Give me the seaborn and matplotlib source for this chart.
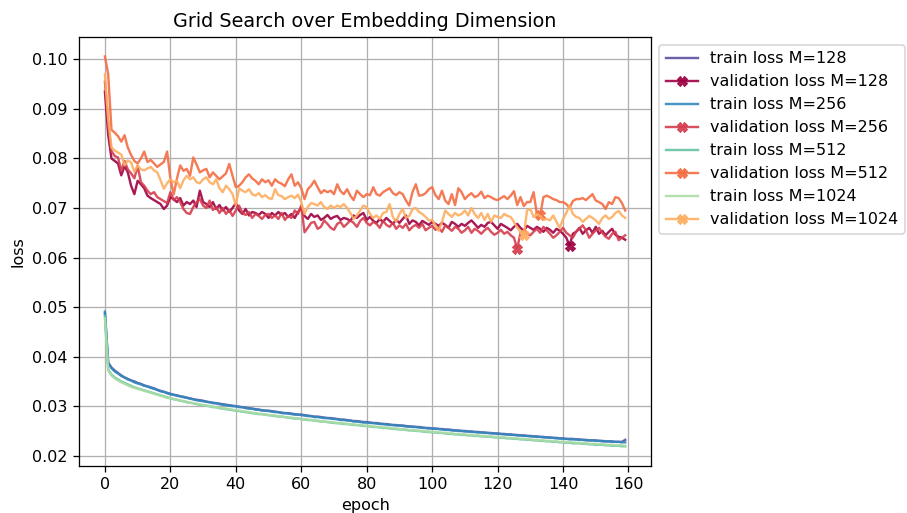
import numpy as np
import pandas as pd
import matplotlib
matplotlib.use("Agg")
import matplotlib.pyplot as plt
import seaborn as sns

epochs = list(range(160))

train_128 = [
    0.0488, 0.0388, 0.0378, 0.0372, 0.0367, 0.0362, 0.0358, 0.0355, 0.0352, 0.0350,
    0.0347, 0.0345, 0.0342, 0.0340, 0.0338, 0.0336, 0.0333, 0.0331, 0.0329, 0.0327,
    0.0325, 0.0323, 0.0322, 0.0320, 0.0319, 0.0317, 0.0316, 0.0314, 0.0313, 0.0312,
    0.0311, 0.0309, 0.0308, 0.0307, 0.0306, 0.0305, 0.0304, 0.0303, 0.0302, 0.0301,
    0.0300, 0.0299, 0.0298, 0.0297, 0.0296, 0.0295, 0.0294, 0.0293, 0.0292, 0.0291,
    0.0291, 0.0290, 0.0289, 0.0288, 0.0287, 0.0286, 0.0286, 0.0285, 0.0284, 0.0283,
    0.0283, 0.0282, 0.0281, 0.0280, 0.0279, 0.0279, 0.0278, 0.0277, 0.0276, 0.0276,
    0.0275, 0.0274, 0.0273, 0.0273, 0.0272, 0.0271, 0.0270, 0.0270, 0.0269, 0.0268,
    0.0268, 0.0267, 0.0266, 0.0266, 0.0265, 0.0264, 0.0264, 0.0263, 0.0262, 0.0262,
    0.0261, 0.0261, 0.0260, 0.0259, 0.0259, 0.0258, 0.0258, 0.0257, 0.0256, 0.0256,
    0.0255, 0.0255, 0.0254, 0.0254, 0.0253, 0.0253, 0.0252, 0.0251, 0.0251, 0.0250,
    0.0250, 0.0249, 0.0249, 0.0248, 0.0248, 0.0247, 0.0247, 0.0246, 0.0246, 0.0245,
    0.0245, 0.0244, 0.0244, 0.0243, 0.0243, 0.0242, 0.0242, 0.0241, 0.0241, 0.0240,
    0.0240, 0.0239, 0.0239, 0.0238, 0.0238, 0.0237, 0.0237, 0.0236, 0.0236, 0.0235,
    0.0235, 0.0234, 0.0234, 0.0234, 0.0233, 0.0233, 0.0232, 0.0232, 0.0231, 0.0231,
    0.0231, 0.0230, 0.0230, 0.0229, 0.0229, 0.0229, 0.0228, 0.0228, 0.0228, 0.0232,
]

val_128 = [
    0.0935, 0.0848, 0.0800, 0.0795, 0.0790, 0.0766, 0.0785, 0.0772, 0.0745, 0.0728,
    0.0755, 0.0748, 0.0740, 0.0725, 0.0720, 0.0716, 0.0712, 0.0708, 0.0698, 0.0705,
    0.0722, 0.0718, 0.0712, 0.0720, 0.0705, 0.0712, 0.0708, 0.0715, 0.0702, 0.0735,
    0.0712, 0.0708, 0.0702, 0.0712, 0.0698, 0.0706, 0.0695, 0.0702, 0.0692, 0.0700,
    0.0710, 0.0695, 0.0688, 0.0698, 0.0685, 0.0692, 0.0690, 0.0686, 0.0692, 0.0688,
    0.0680, 0.0690, 0.0685, 0.0692, 0.0686, 0.0690, 0.0682, 0.0688, 0.0680, 0.0692,
    0.0700, 0.0684, 0.0678, 0.0688, 0.0682, 0.0685, 0.0676, 0.0680, 0.0686, 0.0678,
    0.0682, 0.0684, 0.0676, 0.0680, 0.0678, 0.0674, 0.0685, 0.0680, 0.0686, 0.0690,
    0.0676, 0.0682, 0.0674, 0.0670, 0.0678, 0.0672, 0.0680, 0.0674, 0.0668, 0.0676,
    0.0670, 0.0678, 0.0685, 0.0668, 0.0675, 0.0672, 0.0665, 0.0674, 0.0670, 0.0666,
    0.0672, 0.0668, 0.0664, 0.0670, 0.0666, 0.0660, 0.0672, 0.0668, 0.0662, 0.0668,
    0.0664, 0.0670, 0.0675, 0.0668, 0.0660, 0.0666, 0.0662, 0.0670, 0.0672, 0.0665,
    0.0658, 0.0668, 0.0664, 0.0660, 0.0655, 0.0662, 0.0668, 0.0660, 0.0654, 0.0664,
    0.0660, 0.0656, 0.0662, 0.0658, 0.0652, 0.0660, 0.0656, 0.0650, 0.0658, 0.0654,
    0.0648, 0.0640, 0.0624, 0.0648, 0.0652, 0.0660, 0.0648, 0.0655, 0.0660, 0.0650,
    0.0662, 0.0648, 0.0654, 0.0645, 0.0652, 0.0658, 0.0646, 0.0642, 0.0640, 0.0636,
]

train_256 = [
    0.0491, 0.0386, 0.0377, 0.0370, 0.0366, 0.0361, 0.0358, 0.0354, 0.0352, 0.0348,
    0.0346, 0.0344, 0.0341, 0.0340, 0.0337, 0.0335, 0.0333, 0.0330, 0.0329, 0.0326,
    0.0324, 0.0323, 0.0321, 0.0320, 0.0318, 0.0317, 0.0315, 0.0314, 0.0312, 0.0311,
    0.0310, 0.0309, 0.0308, 0.0306, 0.0306, 0.0304, 0.0303, 0.0302, 0.0301, 0.0300,
    0.0300, 0.0298, 0.0298, 0.0296, 0.0295, 0.0295, 0.0293, 0.0293, 0.0291, 0.0291,
    0.0290, 0.0289, 0.0288, 0.0288, 0.0286, 0.0286, 0.0285, 0.0284, 0.0283, 0.0283,
    0.0282, 0.0281, 0.0280, 0.0280, 0.0278, 0.0278, 0.0277, 0.0276, 0.0276, 0.0275,
    0.0274, 0.0274, 0.0272, 0.0272, 0.0271, 0.0271, 0.0269, 0.0269, 0.0268, 0.0267,
    0.0267, 0.0266, 0.0266, 0.0265, 0.0264, 0.0264, 0.0263, 0.0262, 0.0262, 0.0261,
    0.0261, 0.0260, 0.0259, 0.0259, 0.0258, 0.0258, 0.0257, 0.0256, 0.0256, 0.0255,
    0.0255, 0.0254, 0.0254, 0.0253, 0.0252, 0.0252, 0.0251, 0.0251, 0.0250, 0.0250,
    0.0249, 0.0249, 0.0248, 0.0248, 0.0247, 0.0247, 0.0246, 0.0246, 0.0245, 0.0245,
    0.0244, 0.0244, 0.0243, 0.0243, 0.0242, 0.0242, 0.0241, 0.0241, 0.0240, 0.0240,
    0.0239, 0.0239, 0.0238, 0.0238, 0.0237, 0.0237, 0.0236, 0.0236, 0.0235, 0.0235,
    0.0234, 0.0234, 0.0233, 0.0233, 0.0233, 0.0232, 0.0232, 0.0231, 0.0231, 0.0231,
    0.0230, 0.0230, 0.0229, 0.0229, 0.0229, 0.0228, 0.0228, 0.0228, 0.0227, 0.0227,
]

val_256 = [
    0.0955, 0.0870, 0.0815, 0.0805, 0.0802, 0.0775, 0.0795, 0.0778, 0.0770, 0.0760,
    0.0785, 0.0752, 0.0745, 0.0735, 0.0728, 0.0732, 0.0722, 0.0718, 0.0714, 0.0710,
    0.0732, 0.0716, 0.0722, 0.0712, 0.0698, 0.0690, 0.0688, 0.0702, 0.0712, 0.0718,
    0.0705, 0.0700, 0.0715, 0.0696, 0.0702, 0.0690, 0.0700, 0.0688, 0.0696, 0.0684,
    0.0695, 0.0705, 0.0690, 0.0686, 0.0692, 0.0680, 0.0688, 0.0684, 0.0678, 0.0686,
    0.0688, 0.0680, 0.0685, 0.0678, 0.0690, 0.0676, 0.0684, 0.0680, 0.0695, 0.0688,
    0.0705, 0.0651, 0.0660, 0.0670, 0.0672, 0.0658, 0.0662, 0.0675, 0.0668, 0.0660,
    0.0656, 0.0668, 0.0672, 0.0662, 0.0668, 0.0675, 0.0670, 0.0662, 0.0674, 0.0680,
    0.0670, 0.0665, 0.0672, 0.0668, 0.0660, 0.0674, 0.0666, 0.0662, 0.0670, 0.0658,
    0.0665, 0.0660, 0.0668, 0.0655, 0.0662, 0.0666, 0.0660, 0.0668, 0.0655, 0.0660,
    0.0664, 0.0656, 0.0660, 0.0652, 0.0665, 0.0660, 0.0654, 0.0662, 0.0658, 0.0650,
    0.0655, 0.0662, 0.0650, 0.0658, 0.0654, 0.0648, 0.0655, 0.0660, 0.0652, 0.0646,
    0.0650, 0.0656, 0.0648, 0.0652, 0.0645, 0.0640, 0.0618, 0.0650, 0.0655, 0.0648,
    0.0645, 0.0652, 0.0658, 0.0650, 0.0662, 0.0655, 0.0648, 0.0640, 0.0645, 0.0652,
    0.0660, 0.0650, 0.0645, 0.0640, 0.0652, 0.0658, 0.0665, 0.0655, 0.0640, 0.0648,
    0.0655, 0.0660, 0.0650, 0.0642, 0.0638, 0.0648, 0.0652, 0.0635, 0.0640, 0.0645,
]

train_512 = [
    0.0482, 0.0374, 0.0364, 0.0358, 0.0354, 0.0350, 0.0347, 0.0344, 0.0341, 0.0338,
    0.0336, 0.0334, 0.0332, 0.0330, 0.0328, 0.0326, 0.0324, 0.0322, 0.0320, 0.0318,
    0.0316, 0.0314, 0.0313, 0.0311, 0.0310, 0.0308, 0.0307, 0.0306, 0.0304, 0.0303,
    0.0302, 0.0301, 0.0300, 0.0298, 0.0298, 0.0296, 0.0295, 0.0294, 0.0293, 0.0292,
    0.0291, 0.0290, 0.0289, 0.0288, 0.0287, 0.0286, 0.0285, 0.0284, 0.0284, 0.0283,
    0.0282, 0.0281, 0.0280, 0.0279, 0.0279, 0.0278, 0.0277, 0.0276, 0.0275, 0.0275,
    0.0274, 0.0273, 0.0272, 0.0272, 0.0271, 0.0270, 0.0269, 0.0269, 0.0268, 0.0267,
    0.0266, 0.0266, 0.0265, 0.0264, 0.0264, 0.0263, 0.0262, 0.0262, 0.0261, 0.0260,
    0.0260, 0.0259, 0.0258, 0.0258, 0.0257, 0.0256, 0.0256, 0.0255, 0.0254, 0.0254,
    0.0253, 0.0253, 0.0252, 0.0251, 0.0251, 0.0250, 0.0250, 0.0249, 0.0248, 0.0248,
    0.0247, 0.0247, 0.0246, 0.0246, 0.0245, 0.0244, 0.0244, 0.0243, 0.0243, 0.0242,
    0.0242, 0.0241, 0.0241, 0.0240, 0.0240, 0.0239, 0.0239, 0.0238, 0.0238, 0.0237,
    0.0237, 0.0236, 0.0236, 0.0235, 0.0235, 0.0234, 0.0234, 0.0233, 0.0233, 0.0232,
    0.0232, 0.0231, 0.0231, 0.0230, 0.0230, 0.0229, 0.0229, 0.0228, 0.0228, 0.0227,
    0.0227, 0.0226, 0.0226, 0.0225, 0.0225, 0.0225, 0.0224, 0.0224, 0.0223, 0.0223,
    0.0222, 0.0222, 0.0222, 0.0221, 0.0221, 0.0220, 0.0220, 0.0220, 0.0219, 0.0219,
]

val_512 = [
    0.1006, 0.0970, 0.0858, 0.0852, 0.0845, 0.0834, 0.0847, 0.0822, 0.0807, 0.0795,
    0.0790, 0.0800, 0.0814, 0.0793, 0.0797, 0.0790, 0.0783, 0.0788, 0.0793, 0.0814,
    0.0760, 0.0727, 0.0759, 0.0786, 0.0775, 0.0779, 0.0765, 0.0802, 0.0788, 0.0772,
    0.0776, 0.0779, 0.0762, 0.0772, 0.0765, 0.0758, 0.0764, 0.0770, 0.0789, 0.0765,
    0.0742, 0.0745, 0.0752, 0.0762, 0.0768, 0.0760, 0.0755, 0.0748, 0.0758, 0.0752,
    0.0756, 0.0745, 0.0758, 0.0752, 0.0749, 0.0744, 0.0758, 0.0768, 0.0745, 0.0752,
    0.0740, 0.0718, 0.0738, 0.0745, 0.0755, 0.0742, 0.0730, 0.0736, 0.0732, 0.0735,
    0.0728, 0.0748, 0.0734, 0.0728, 0.0738, 0.0725, 0.0716, 0.0735, 0.0728, 0.0722,
    0.0728, 0.0726, 0.0742, 0.0728, 0.0725, 0.0732, 0.0736, 0.0740, 0.0730, 0.0726,
    0.0732, 0.0728, 0.0715, 0.0705, 0.0732, 0.0748, 0.0725, 0.0726, 0.0730, 0.0738,
    0.0742, 0.0726, 0.0718, 0.0735, 0.0715, 0.0708, 0.0728, 0.0706, 0.0740, 0.0732,
    0.0718, 0.0725, 0.0730, 0.0722, 0.0725, 0.0733, 0.0720, 0.0725, 0.0722, 0.0718,
    0.0716, 0.0720, 0.0724, 0.0718, 0.0725, 0.0734, 0.0706, 0.0722, 0.0704, 0.0712,
    0.0712, 0.0732, 0.0688, 0.0685, 0.0722, 0.0725, 0.0722, 0.0718, 0.0716, 0.0712,
    0.0712, 0.0708, 0.0700, 0.0714, 0.0718, 0.0718, 0.0720, 0.0716, 0.0722, 0.0728,
    0.0715, 0.0712, 0.0708, 0.0698, 0.0712, 0.0708, 0.0722, 0.0720, 0.0710, 0.0695,
]

train_1024 = [
    0.0477, 0.0372, 0.0362, 0.0356, 0.0352, 0.0348, 0.0345, 0.0342, 0.0339, 0.0337,
    0.0335, 0.0333, 0.0331, 0.0329, 0.0327, 0.0325, 0.0323, 0.0321, 0.0319, 0.0317,
    0.0316, 0.0315, 0.0313, 0.0312, 0.0310, 0.0309, 0.0307, 0.0306, 0.0305, 0.0304,
    0.0302, 0.0301, 0.0300, 0.0299, 0.0298, 0.0297, 0.0296, 0.0295, 0.0294, 0.0293,
    0.0292, 0.0291, 0.0290, 0.0289, 0.0288, 0.0287, 0.0286, 0.0285, 0.0284, 0.0283,
    0.0282, 0.0282, 0.0281, 0.0280, 0.0279, 0.0278, 0.0277, 0.0277, 0.0276, 0.0275,
    0.0274, 0.0274, 0.0273, 0.0272, 0.0271, 0.0271, 0.0270, 0.0269, 0.0268, 0.0268,
    0.0267, 0.0266, 0.0266, 0.0265, 0.0264, 0.0264, 0.0263, 0.0262, 0.0262, 0.0261,
    0.0260, 0.0260, 0.0259, 0.0258, 0.0258, 0.0257, 0.0257, 0.0256, 0.0255, 0.0255,
    0.0254, 0.0253, 0.0253, 0.0252, 0.0252, 0.0251, 0.0250, 0.0250, 0.0249, 0.0249,
    0.0248, 0.0248, 0.0247, 0.0246, 0.0246, 0.0245, 0.0245, 0.0244, 0.0244, 0.0243,
    0.0243, 0.0242, 0.0242, 0.0241, 0.0241, 0.0240, 0.0240, 0.0239, 0.0239, 0.0238,
    0.0238, 0.0237, 0.0237, 0.0236, 0.0236, 0.0235, 0.0235, 0.0234, 0.0234, 0.0233,
    0.0233, 0.0232, 0.0232, 0.0231, 0.0231, 0.0230, 0.0230, 0.0229, 0.0229, 0.0228,
    0.0228, 0.0227, 0.0227, 0.0227, 0.0226, 0.0226, 0.0225, 0.0225, 0.0224, 0.0224,
    0.0224, 0.0223, 0.0223, 0.0222, 0.0222, 0.0222, 0.0221, 0.0221, 0.0221, 0.0220,
]

val_1024 = [
    0.0970, 0.0880, 0.0822, 0.0816, 0.0812, 0.0808, 0.0786, 0.0796, 0.0792, 0.0773,
    0.0786, 0.0778, 0.0776, 0.0780, 0.0783, 0.0776, 0.0772, 0.0756, 0.0739, 0.0750,
    0.0758, 0.0752, 0.0755, 0.0740, 0.0756, 0.0765, 0.0758, 0.0762, 0.0752, 0.0750,
    0.0758, 0.0762, 0.0752, 0.0748, 0.0758, 0.0740, 0.0732, 0.0745, 0.0738, 0.0728,
    0.0705, 0.0740, 0.0735, 0.0732, 0.0738, 0.0728, 0.0725, 0.0730, 0.0722, 0.0726,
    0.0720, 0.0718, 0.0738, 0.0726, 0.0724, 0.0718, 0.0722, 0.0725, 0.0720, 0.0727,
    0.0712, 0.0688, 0.0702, 0.0710, 0.0708, 0.0705, 0.0712, 0.0702, 0.0698, 0.0705,
    0.0700, 0.0705, 0.0702, 0.0708, 0.0700, 0.0690, 0.0678, 0.0685, 0.0695, 0.0705,
    0.0702, 0.0688, 0.0680, 0.0685, 0.0678, 0.0690, 0.0692, 0.0708, 0.0682, 0.0672,
    0.0688, 0.0698, 0.0680, 0.0684, 0.0698, 0.0700, 0.0692, 0.0688, 0.0682, 0.0675,
    0.0676, 0.0665, 0.0654, 0.0672, 0.0695, 0.0688, 0.0682, 0.0690, 0.0685, 0.0688,
    0.0695, 0.0685, 0.0700, 0.0688, 0.0680, 0.0690, 0.0676, 0.0688, 0.0672, 0.0685,
    0.0682, 0.0680, 0.0688, 0.0684, 0.0682, 0.0672, 0.0660, 0.0652, 0.0645, 0.0695,
    0.0698, 0.0682, 0.0688, 0.0684, 0.0676, 0.0678, 0.0675, 0.0685, 0.0672, 0.0660,
    0.0678, 0.0690, 0.0705, 0.0688, 0.0682, 0.0680, 0.0672, 0.0678, 0.0684, 0.0680,
    0.0675, 0.0668, 0.0680, 0.0685, 0.0678, 0.0682, 0.0690, 0.0694, 0.0685, 0.0680,
]

dims = ["128", "256", "512", "1024"]
train_series = [train_128, train_256, train_512, train_1024]
val_series = [val_128, val_256, val_512, val_1024]
train_colors = ["#5e4fa2", "#3288bd", "#66c2a5", "#abdda4"]
val_colors = ["#9e0142", "#d53e4f", "#f46d43", "#fdae61"]

DPI = 115
fig = plt.figure(figsize=(907 / DPI, 513 / DPI), dpi=DPI)
ax = fig.add_axes([0.087, 0.092, 0.631, 0.836])

for d, tr, va, tc, vc in zip(dims, train_series, val_series, train_colors, val_colors):
    df_t = pd.DataFrame({"epoch": epochs, "loss": tr})
    df_v = pd.DataFrame({"epoch": epochs, "loss": va})
    sns.lineplot(data=df_t, x="epoch", y="loss", ax=ax, color=tc,
                 label=f"train loss M={d}", linewidth=1.5, alpha=0.9)
    best = int(np.argmin(va))
    sns.lineplot(data=df_v, x="epoch", y="loss", ax=ax, color=vc,
                 label=f"validation loss M={d}", linewidth=1.5, alpha=0.9,
                 marker="X", markersize=6, markevery=[best],
                 markeredgecolor=vc)

ax.grid(True, color="#b0b0b0", linewidth=0.8)
ax.set_axisbelow(True)
ax.set_xticks([0, 20, 40, 60, 80, 100, 120, 140, 160])
ax.set_yticks([0.02, 0.03, 0.04, 0.05, 0.06, 0.07, 0.08, 0.09, 0.10])
ax.set_yticklabels(["0.02", "0.03", "0.04", "0.05", "0.06", "0.07", "0.08", "0.09", "0.10"])
ax.set_title("Grid Search over Embedding Dimension")
ax.set_xlabel("epoch")
ax.set_ylabel("loss")
ax.legend(loc="upper left", bbox_to_anchor=(1.0, 1.0), fontsize=10)

fig.savefig("out.png", dpi=DPI)
